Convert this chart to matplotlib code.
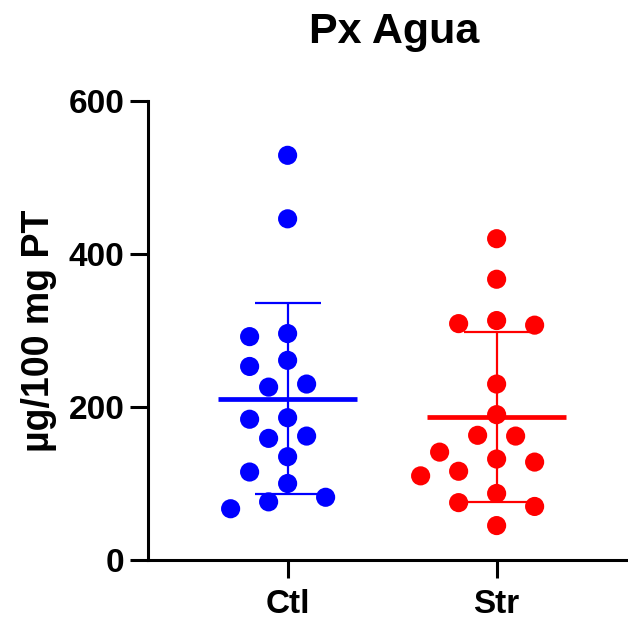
import numpy as np
import matplotlib
matplotlib.use("Agg")
import matplotlib.pyplot as plt

plt.rcParams['font.family'] = ['Liberation Sans', 'DejaVu Sans']
plt.rcParams['font.weight'] = 'bold'

groups = ['Ctl', 'Str']
ctl = [529, 446, 296, 292, 261, 253, 230, 226, 186, 184, 162, 159, 135, 115, 100, 82, 76, 67]
strs = [420, 367, 313, 309, 307, 230, 190, 163, 162, 141, 132, 128, 116, 110, 87, 75, 70, 45]
colors = ['#0000ff', '#ff0000']
yticks = [0, 200, 400, 600]


def swarm(vals, px_per_y, slot_px, min_px):
    # greedy beeswarm in pixel space, returns offsets in pixels
    order = np.argsort(vals)[::-1]
    placed = []
    offs = np.zeros(len(vals))
    cands = [0]
    for k in range(1, 8):
        cands += [-k, k]
    for i in order:
        y = vals[i] * px_per_y
        for k in cands:
            x = k * slot_px
            if all((x - px) ** 2 + (y - py) ** 2 >= min_px ** 2 for px, py in placed):
                break
        placed.append((x, y))
        offs[i] = x
    return offs


fig = plt.figure(figsize=(6.28, 6.21), dpi=100)
ax = fig.add_axes([148 / 628, 1 - 560 / 621, 478 / 628, 459 / 621])
ax.set_xlim(-0.668, 1.619)
ax.set_ylim(0, 600)

# pixel scales of the axes
x_ppu = 478 / (1.619 + 0.668)
y_ppu = 459 / 600

for i, (vals, c) in enumerate(zip([ctl, strs], colors)):
    vals = np.array(vals, dtype=float)
    offs = swarm(vals, y_ppu, 19, 26) / x_ppu
    ax.scatter(i + offs, vals, s=190, color=c, edgecolors='none', zorder=3, clip_on=False)
    m = vals.mean()
    sd = vals.std(ddof=1)
    ax.plot([i - 0.333, i + 0.333], [m, m], color=c, lw=3.4, zorder=4, solid_capstyle='butt')
    ax.errorbar(i, m, yerr=sd, color=c, lw=1.6, capsize=24, capthick=1.6, zorder=4)

ax.set_xticks(range(len(groups)))
ax.set_xticklabels(groups, fontsize=24, fontweight='bold')
ax.set_yticks(yticks)
ax.set_yticklabels([str(t) for t in yticks], fontsize=24, fontweight='bold')
ax.tick_params(width=2.2, length=13, pad=4)
ax.tick_params(axis='x', pad=8)
for s in ['top', 'right']:
    ax.spines[s].set_visible(False)
for s in ['left', 'bottom']:
    ax.spines[s].set_linewidth(2.2)
ax.set_ylabel('µg/100 mg PT', fontsize=27, fontweight='bold', labelpad=8)
fig.suptitle('Px Agua', fontsize=31, fontweight='bold', x=0.627, y=0.98)

fig.savefig('out.png', dpi=100)
